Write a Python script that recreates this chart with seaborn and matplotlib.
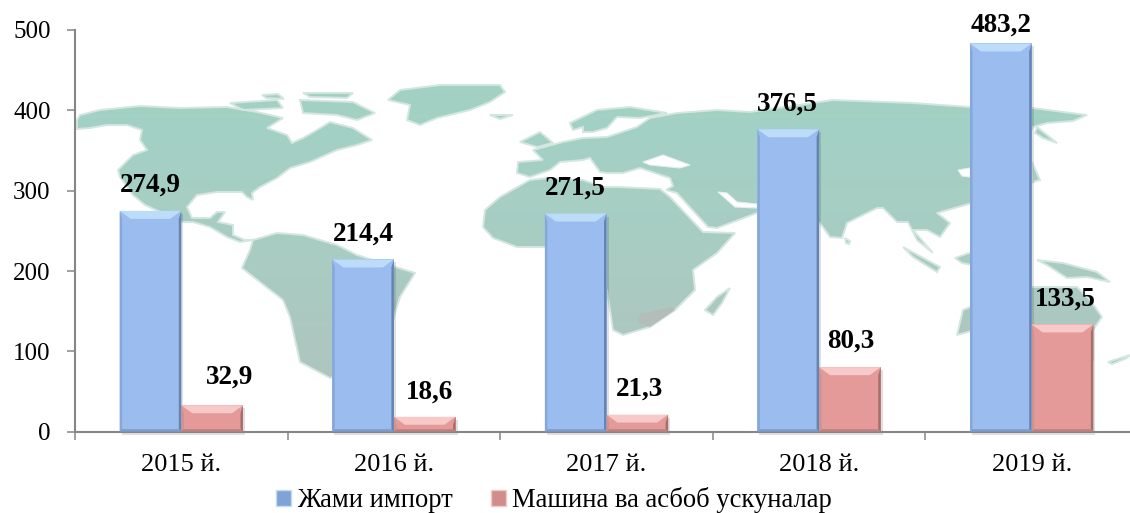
import numpy as np
import pandas as pd
import seaborn as sns
import matplotlib.pyplot as plt
from matplotlib.colors import LinearSegmentedColormap
from matplotlib.patches import Patch, Polygon, PathPatch, Rectangle
from matplotlib.path import Path

years = ['2015 й.', '2016 й.', '2017 й.', '2018 й.', '2019 й.']
total_import = [274.9, 214.4, 271.5, 376.5, 483.2]
machinery = [32.9, 18.6, 21.3, 80.3, 133.5]
series_names = ['Жами импорт', 'Машина ва асбоб ускуналар']
y_ticks = [0, 100, 200, 300, 400, 500]

# rough outline of the background map, in image pixels
land = [
    # north america
    [(77, 120), (80, 115), (100, 110), (140, 106), (180, 108), (227, 107), (257, 112), (283, 118), (267, 128),
     (287, 135), (292, 143), (303, 138), (317, 130), (330, 122), (353, 128), (372, 140), (357, 145), (337, 150),
     (310, 162), (290, 168), (277, 178), (260, 187), (252, 193), (253, 200), (247, 197), (242, 192), (217, 192),
     (197, 195), (187, 207), (192, 218), (210, 218), (217, 212), (225, 212), (218, 222), (233, 225), (233, 235),
     (245, 240), (253, 240), (240, 242), (227, 237), (210, 227), (193, 222), (182, 222), (145, 205), (133, 195),
     (120, 177), (118, 170), (133, 155), (147, 150), (140, 140), (142, 130), (127, 125), (107, 125), (90, 128),
     (77, 129)],
    # arctic islands
    [(230, 103), (277, 100), (283, 108), (243, 110)],
    [(300, 100), (353, 102), (375, 113), (357, 120), (337, 115), (303, 113)],
    [(262, 95), (278, 94), (284, 99), (266, 98)],
    [(303, 93), (353, 93), (347, 98), (310, 97)],
    # greenland, iceland
    [(407, 120), (420, 125), (437, 118), (470, 110), (490, 102), (505, 92), (500, 85), (440, 85), (400, 90),
     (388, 100), (410, 105)],
    [(490, 115), (513, 115), (500, 119)],
    # south america
    [(253, 240), (277, 233), (303, 235), (337, 245), (357, 255), (415, 273), (400, 297), (393, 320), (350, 345),
     (340, 375), (330, 378), (300, 362), (290, 317), (283, 300), (242, 268), (250, 250)],
    # uk, scandinavia
    [(520, 142), (540, 132), (553, 143), (537, 147)],
    [(570, 123), (597, 110), (630, 107), (667, 113), (640, 118), (617, 117), (607, 128), (593, 132), (583, 132),
     (583, 127), (573, 130)],
    # eurasia
    [(518, 162), (543, 160), (533, 150), (563, 142), (583, 138), (607, 137), (637, 127), (650, 118), (677, 113),
     (717, 110), (750, 112), (833, 100), (913, 103), (970, 107), (1033, 108), (1063, 112), (1087, 115), (1073, 121),
     (1047, 123), (1033, 127), (1020, 150), (1000, 190), (972, 203), (937, 213), (950, 223), (940, 237), (927, 230),
     (913, 230), (933, 253), (917, 240), (908, 222), (897, 222), (883, 208), (877, 208), (847, 223), (842, 238),
     (830, 237), (820, 223), (790, 205), (757, 213), (717, 228), (708, 227), (677, 193), (666, 190), (673, 186),
     (670, 178), (640, 168), (623, 173), (607, 173), (600, 172), (590, 158), (583, 160), (560, 162), (550, 170),
     (530, 177), (517, 173)],
    # africa
    [(620, 187), (660, 189), (670, 197), (703, 232), (735, 233), (717, 253), (693, 270), (695, 290), (675, 310),
     (650, 327), (623, 335), (613, 330), (607, 290), (560, 263), (547, 247), (517, 247), (493, 238), (483, 227),
     (485, 210), (500, 197), (530, 180), (547, 178), (583, 180), (603, 187)],
    # madagascar, sri lanka, indonesia, japan, kamchatka
    [(730, 288), (717, 297), (705, 310), (713, 315), (722, 303)],
    [(845, 238), (850, 241), (849, 244), (846, 243)],
    [(903, 247), (940, 267), (937, 272), (913, 257)],
    [(955, 258), (972, 252), (972, 265), (962, 263)],
    [(1037, 260), (1063, 263), (1097, 272), (1110, 282), (1087, 277), (1067, 278), (1047, 265)],
    [(1032, 162), (1040, 180), (1033, 182)],
    [(1037, 127), (1057, 143), (1043, 138), (1035, 133)],
    # australia, new zealand
    [(957, 335), (963, 310), (975, 305), (1032, 287), (1077, 287), (1090, 300), (1102, 317), (1093, 330), (1093, 360),
     (1040, 360), (975, 330)],
    [(1108, 362), (1130, 355), (1127, 358), (1112, 364)],
]
water = [
    [(643, 162), (663, 155), (690, 165), (680, 168), (650, 165)],
    [(718, 192), (727, 193), (737, 202), (757, 204), (757, 208), (735, 207)],
    [(958, 170), (970, 168), (970, 177), (962, 176)],
]
south_africa = [(637, 322), (640, 314), (672, 307), (675, 310), (650, 327)]

df = pd.DataFrame({
    'year': years * 2,
    'value': total_import + machinery,
    'series': [series_names[0]] * 5 + [series_names[1]] * 5,
})

plt.rcParams['font.family'] = ['Liberation Serif', 'DejaVu Serif']
fig = plt.figure(figsize=(11.3, 5.13), dpi=100)

# map behind the chart
map_ax = fig.add_axes([0, 0, 1, 1], zorder=0)
map_ax.axis('off')
verts, codes = [], []
for poly in land:
    verts += poly + [poly[0]]
    codes += [Path.MOVETO] + [Path.LINETO] * (len(poly) - 1) + [Path.CLOSEPOLY]
map_cmap = LinearSegmentedColormap.from_list('map', ['#a2d2c5', '#a8cdc3', '#b0c4be'])
grad = map_ax.imshow(np.linspace(0, 1, 64).reshape(-1, 1), cmap=map_cmap, extent=(0, 1130, 400, 85), aspect='auto')
outline = Path(verts, codes)
clip = PathPatch(outline, transform=map_ax.transData, fc='none', ec='none')
map_ax.add_patch(clip)
grad.set_clip_path(clip)
map_ax.add_patch(PathPatch(outline, fc='none', ec='#d3e6e0', lw=1.4))
map_ax.set_xlim(0, 1130)
map_ax.set_ylim(513, 0)
map_ax.add_patch(Polygon(south_africa, fc='#b3bdba', ec='none'))
for poly in water:
    map_ax.add_patch(Polygon(poly, fc='white', ec='#e6f0ed', lw=0.8))

# chart
ax = fig.add_axes([75 / 1130, (513 - 431.7) / 513, 1 - 75 / 1130, 401.7 / 513], zorder=1)
ax.patch.set_alpha(0)
sns.barplot(data=df, x='year', y='value', hue='series', palette=['#9abcee', '#e39a98'], width=0.58, gap=0,
            saturation=1, legend=False, ax=ax)

px_x = 1 / 212.6
px_y = 500 / 401.7
bevels = [('#bcdcfa', '#86a7d9', '#6385b6', '#7c9cce'), ('#f7c9c8', '#cf9291', '#a96d6c', '#bd8180')]
for container, colours in zip(ax.containers, bevels):
    top_c, left_c, right_c, bottom_c = colours
    for bar in container:
        x0, x1 = bar.get_x(), bar.get_x() + bar.get_width()
        h = bar.get_height()
        bx, by = 2.5 * px_x, 2.5 * px_y
        tx, ty = 11 * px_x, 8 * px_y
        ax.add_patch(Rectangle((x0 + 2 * px_x, -3 * px_y), x1 - x0, h, fc='#000000', alpha=0.12, ec='none', zorder=1,
                               clip_on=False))
        bar.set_zorder(2)
        ax.add_patch(Polygon([(x0, h), (x1, h), (x1 - tx, h - ty), (x0 + tx, h - ty)], fc=top_c, ec='none', zorder=3))
        ax.add_patch(Polygon([(x0, 0), (x0, h), (x0 + bx, h - ty), (x0 + bx, by)], fc=left_c, ec='none', zorder=3))
        ax.add_patch(Polygon([(x1, 0), (x1, h), (x1 - bx, h - ty), (x1 - bx, by)], fc=right_c, ec='none', zorder=3))
        ax.add_patch(Polygon([(x0, 0), (x1, 0), (x1 - bx, by), (x0 + bx, by)], fc=bottom_c, ec='none', zorder=3))

# value labels, nudged where the original has them off-centre (pixels)
nudge_x = [[0, 0, 0, -1, 0], [17, 5, 2, 1, 3]]
nudge_y = [[0, 0, 0, -1, -7], [2, -1, 0, 0, 0]]
for container, values, dxs, dys in zip(ax.containers, [total_import, machinery], nudge_x, nudge_y):
    for bar, value, dx, dy in zip(container, values, dxs, dys):
        ax.annotate(f'{value:.1f}'.replace('.', ','), (bar.get_x() + bar.get_width() / 2, value),
                    xytext=(dx * 0.72, 18.5 + dy * 0.72), textcoords='offset points', ha='center', va='center',
                    fontsize=19.5, fontweight='bold', color='black', annotation_clip=False, zorder=5)

ax.set_xlim(-0.5, (1130 - 75) / 212.6 - 0.5)
ax.set_ylim(0, 500)
ax.set_xlabel('')
ax.set_ylabel('')
ax.set_yticks(y_ticks)
ax.set_xticks(np.arange(-0.5, 4.5, 1))
ax.set_xticklabels([])
ax.set_xticks(np.arange(5), labels=years, minor=True)
ax.tick_params(axis='x', which='minor', length=0, labelsize=19, pad=16)
ax.tick_params(axis='x', which='major', length=5.5, width=1.1, color='#868686')
ax.tick_params(axis='y', length=5.5, width=1.1, color='#868686', labelsize=18, pad=12)
sns.despine(ax=ax)
for side in ['left', 'bottom']:
    ax.spines[side].set_color('#868686')
    ax.spines[side].set_linewidth(1.5)

handles = [Patch(fc='#7fa3d6', ec='#c3dbf5', lw=1), Patch(fc='#d08d8c', ec='#f2c8c8', lw=1)]
fig.legend(handles, series_names, loc='lower left', bbox_to_anchor=(263 / 1130, -0.026), ncol=2, frameon=False,
           fontsize=19.2, handlelength=0.55, handleheight=0.55, handletextpad=0.22, columnspacing=1.45, borderpad=0)

fig.savefig('out.png', dpi=100)
